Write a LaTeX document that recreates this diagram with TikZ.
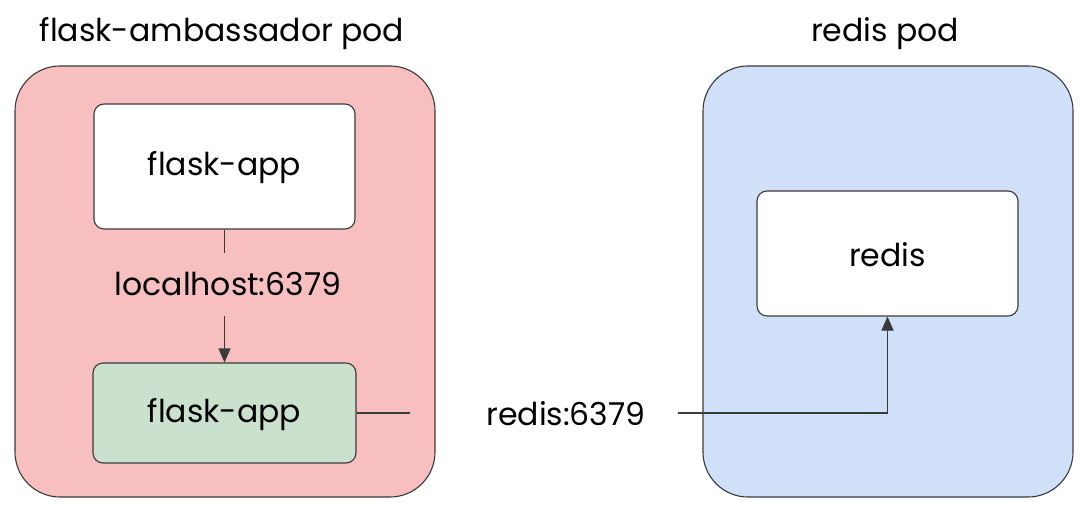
\documentclass[tikz,border=0pt]{standalone}
\usepackage{fontspec}
\setmainfont{Poppins}
\usetikzlibrary{arrows.meta}
\definecolor{podpink}{HTML}{F7BFBF}
\definecolor{podblue}{HTML}{CFE0F8}
\definecolor{boxgreen}{HTML}{C9E1CD}
\definecolor{edge}{HTML}{3A3A3A}
\begin{document}
\begin{tikzpicture}[x=1pt,y=-1pt,
  pod/.style={draw=edge,line width=1.1pt,rounded corners=45pt},
  inner/.style={draw=edge,line width=1.1pt,rounded corners=10pt,fill=white},
  lbl/.style={font=\fontsize{31.5}{34}\selectfont,text=black,inner sep=0pt},
  conn/.style={draw=edge,line width=1.1pt},
  tip/.style={-{Triangle[length=14pt,width=12pt]}}]
\useasboundingbox[fill=white] (0,0) rectangle (1086,513);
% pods
\draw[pod,fill=podpink] (15,66) rectangle (435,497);
\draw[pod,fill=podblue] (703,66) rectangle (1073,497);
\node[lbl] (t1) at (222,34) {flask-ambassador pod};
\node[lbl] (t2) at (885,34) {redis pod};
% inner boxes
\node[inner,minimum width=261pt,minimum height=125pt] (app) at (224.5,166.5) {};
\node[lbl] at (224.5,168) {flask-app};
\node[inner,fill=boxgreen,minimum width=263pt,minimum height=100pt] (amb) at (224.5,413) {};
\node[lbl] at (224.5,415) {flask-app};
\node[inner,minimum width=261pt,minimum height=125pt] (redis) at (887.5,253.5) {};
\node[lbl] at (887.5,255) {redis};
% labels on connectors
\node[lbl] (lh) at (228,284) {localhost:6379};
\node[lbl] (rp) at (566,414) {redis:6379};
% connectors
\coordinate (lhtop) at (224.5,253);
\coordinate (lhbot) at (224.5,316);
\coordinate (rpl) at (410,413);
\coordinate (rpr) at (678,413);
\draw[conn] (app.south) -- (lhtop);
\draw[conn,tip] (lhbot) -- (amb.north);
\draw[conn] (amb.east) -- (rpl);
\draw[conn,tip] (rpr) -| (redis.south);
\end{tikzpicture}
\end{document}
